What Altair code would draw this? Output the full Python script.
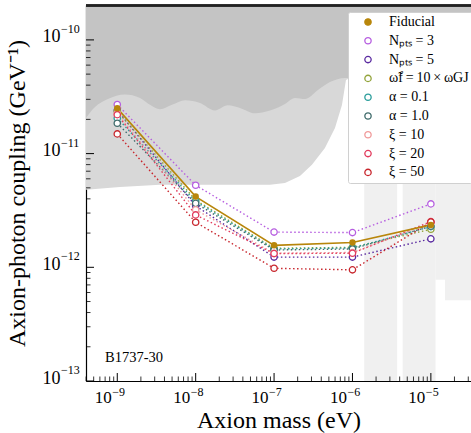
import altair as alt
import pandas as pd

# ---------------- data ----------------
mass_log = [-9, -8, -7, -6, -5]

series_keys = ["fid", "n3", "n5", "om", "a01", "a10", "x10", "x20", "x50"]
series_labels = ["Fiducial", "N\u209a\u209c\u209b = 3", "N\u209a\u209c\u209b = 5",
                 "\u03c9\u0303f\u2009=\u200910\u2009\u00d7\u2009\u03c9GJ",
                 "\u03b1 = 0.1", "\u03b1 = 1.0", "\u03be = 10", "\u03be = 20", "\u03be = 50"]
series_colors = ["#b8860b", "#b65ee0", "#5a2aa0", "#93a43c", "#2a9d9b",
                 "#3f6b6b", "#f09a9a", "#e23a5c", "#c8262d"]

coupling = {
    "fid": [2.50e-11, 4.19e-12, 1.56e-12, 1.65e-12, 2.36e-12],
    "n3":  [2.70e-11, 5.27e-12, 2.04e-12, 2.02e-12, 3.61e-12],
    "n5":  [2.40e-11, 3.47e-12, 1.23e-12, 1.23e-12, 1.78e-12],
    "om":  [2.35e-11, 3.90e-12, 1.47e-12, 1.50e-12, 2.16e-12],
    "a01": [2.05e-11, 3.80e-12, 1.45e-12, 1.48e-12, 2.28e-12],
    "a10": [1.85e-11, 3.65e-12, 1.42e-12, 1.45e-12, 2.30e-12],
    "x10": [2.25e-11, 3.20e-12, 1.33e-12, 1.35e-12, 2.45e-12],
    "x20": [2.20e-11, 2.89e-12, 1.32e-12, 1.33e-12, 2.52e-12],
    "x50": [1.49e-11, 2.49e-12, 0.98e-12, 0.95e-12, 2.50e-12],
}

# excluded-region boundaries (log10 mass, log10 coupling)
light_x = [-9.399, -8.966, -8.455, -7.945, -7.435, -7.052, -6.861, -6.670,
           -6.517, -6.351, -6.223, -6.134, -6.083, -6.032, -4.40]
light_y = [-11.319, -11.293, -11.275, -11.275, -11.275, -11.275, -11.258, -11.196,
           -11.099, -10.950, -10.774, -10.572, -10.352, -10.334, -10.334]
dark_x = [-9.399, -9.284, -9.119, -8.902, -8.710, -8.583, -8.455, -8.302, -8.136,
          -7.945, -7.754, -7.588, -7.435, -7.244, -7.052, -6.861, -6.734, -6.606,
          -6.440, -6.287, -6.096, -4.40]
dark_y = [-10.686, -10.590, -10.520, -10.480, -10.510, -10.570, -10.610, -10.570,
          -10.530, -10.554, -10.620, -10.575, -10.598, -10.645, -10.620, -10.563,
          -10.510, -10.520, -10.440, -10.370, -10.334, -10.334]
stripe_x1 = [-5.85, -5.36, -4.94, -4.82]
stripe_x2 = [-5.43, -4.94, -4.82, -4.40]
stripe_ybot = [-13.0, -13.0, -12.11, -12.29]
stripe_ytop = [-10.334, -10.334, -10.334, -10.334]

x_dom = [10 ** -9.399, 10 ** -4.488]
y_dom = [1e-13, 10 ** -9.693]

x_ticks_major = [1e-9, 1e-8, 1e-7, 1e-6, 1e-5]
x_tick_exps = ["\u22129", "\u22128", "\u22127", "\u22126", "\u22125"]
y_ticks_major = [1e-13, 1e-12, 1e-11, 1e-10]
y_tick_exps = ["\u221213", "\u221212", "\u221211", "\u221210"]
minor_mult = [2, 3, 4, 5, 6, 7, 8, 9]

label_text = "B1737-30"
label_pos = (-9.157, -12.80)

FONT = "Liberation Serif"

rows = []
for k, lab in zip(series_keys, series_labels):
    for m, c in zip(mass_log, coupling[k]):
        rows.append({"key": k, "series": lab, "mass": 10 ** m, "g": c})
df = pd.DataFrame(rows)

xs = alt.Scale(type="log", domain=x_dom, nice=False)
ys = alt.Scale(type="log", domain=y_dom, nice=False)

W, H = 385, 376

light_df = pd.DataFrame({"x": [10 ** v for v in light_x], "y": [10 ** v for v in light_y],
                         "top": y_dom[1]})
dark_df = pd.DataFrame({"x": [10 ** v for v in dark_x], "y": [10 ** v for v in dark_y],
                        "top": y_dom[1]})
stripe_df = pd.DataFrame({"x1": [10 ** v for v in stripe_x1], "x2": [10 ** v for v in stripe_x2],
                          "y1": [10 ** v for v in stripe_ybot], "y2": [10 ** v for v in stripe_ytop]})

xaxis = alt.Axis(values=x_ticks_major, labelExpr="'10'", ticks=False,
                 grid=False, domainColor="black", domainWidth=1.2, labelFont=FONT,
                 labelFontSize=17, labelColor="black", labelPadding=8,
                 labelAlign="right", labelOffset=-6,
                 title="Axion mass (eV)", titleFont=FONT, titleFontSize=24,
                 titleFontWeight="normal", titleColor="black", titlePadding=3)
yaxis = alt.Axis(values=y_ticks_major, labelExpr="'10'", ticks=False,
                 grid=False, domainColor="black", domainWidth=1.2, labelFont=FONT,
                 labelFontSize=18, labelColor="black", labelPadding=26,
                 labelBaseline="alphabetic", labelOffset=2,
                 title="Axion-photon coupling (GeV\u207b\u00b9)", titleFont=FONT,
                 titleFontSize=24, titleFontWeight="normal", titleColor="black",
                 titlePadding=13)

stripes = alt.Chart(stripe_df).mark_rect(clip=True, color="#f0f0f0").encode(
    x=alt.X("x1:Q", scale=xs, axis=xaxis), x2="x2:Q",
    y=alt.Y("y1:Q", scale=ys, axis=yaxis), y2="y2:Q")

light = alt.Chart(light_df).mark_area(color="#d8d8d8", clip=True).encode(
    x=alt.X("x:Q", scale=xs), y=alt.Y("y:Q", scale=ys), y2="top:Q")
dark = alt.Chart(dark_df).mark_area(color="#c4c4c4", clip=True,
                                    interpolate="monotone").encode(
    x=alt.X("x:Q", scale=xs), y=alt.Y("y:Q", scale=ys), y2="top:Q")

stroke_scale = alt.Scale(domain=series_labels, range=series_colors)
fill_scale = alt.Scale(domain=series_labels, range=[series_colors[0]] + ["white"] * 8)

fid = df[df.key == "fid"]
others = df[df.key != "fid"]

legend = alt.Legend(title=None, orient="none", legendX=262, legendY=7,
                    fillColor="white", strokeColor="#d0d0d0", padding=3,
                    cornerRadius=2, labelFont=FONT, labelFontSize=14,
                    labelColor="black", symbolSize=40, symbolStrokeWidth=1.3,
                    symbolOffset=10, labelOffset=14, rowPadding=4.8,
                    symbolType="circle", labelLimit=200)

lines_other = alt.Chart(others).mark_line(
    strokeDash=[1.5, 2.5], strokeWidth=1.4).encode(
    x=alt.X("mass:Q", scale=xs), y=alt.Y("g:Q", scale=ys),
    stroke=alt.Stroke("series:N", scale=stroke_scale, legend=legend))
line_fid = alt.Chart(fid).mark_line(strokeWidth=1.6, color=series_colors[0]).encode(
    x=alt.X("mass:Q", scale=xs), y=alt.Y("g:Q", scale=ys))

pts_other = alt.Chart(others).mark_point(
    shape="circle", size=40, strokeWidth=1.3, opacity=1).encode(
    x=alt.X("mass:Q", scale=xs), y=alt.Y("g:Q", scale=ys),
    stroke=alt.Stroke("series:N", scale=stroke_scale, legend=legend),
    fill=alt.Fill("series:N", scale=fill_scale, legend=legend))
pts_fid = alt.Chart(fid).mark_point(shape="circle", size=42, filled=True, opacity=1,
                                    color=series_colors[0]).encode(
    x=alt.X("mass:Q", scale=xs), y=alt.Y("g:Q", scale=ys))

# inward ticks
ymaj = pd.DataFrame({"v": y_ticks_major, "t": y_tick_exps})
ymin = pd.DataFrame({"v": [m * t for t in y_ticks_major for m in minor_mult
                           if m * t < y_dom[1]]})
xmaj = pd.DataFrame({"v": x_ticks_major, "t": x_tick_exps})
xmin = pd.DataFrame({"v": [m * t for t in [1e-10] + x_ticks_major for m in minor_mult
                           if x_dom[0] < m * t < x_dom[1]]})

ytick_maj = alt.Chart(ymaj).mark_rule(color="black", strokeWidth=1).encode(
    y=alt.Y("v:Q", scale=ys), x=alt.value(0), x2=alt.value(8))
ytick_min = alt.Chart(ymin).mark_rule(color="black", strokeWidth=0.8).encode(
    y=alt.Y("v:Q", scale=ys), x=alt.value(0), x2=alt.value(4.5))
xtick_maj = alt.Chart(xmaj).mark_rule(color="black", strokeWidth=1).encode(
    x=alt.X("v:Q", scale=xs), y=alt.value(H), y2=alt.value(H - 8))
xtick_min = alt.Chart(xmin).mark_rule(color="black", strokeWidth=0.8).encode(
    x=alt.X("v:Q", scale=xs), y=alt.value(H), y2=alt.value(H - 4.5))
top_rule = alt.Chart(ymaj).mark_rule(color="#222222", strokeWidth=2).encode(
    x=alt.value(0), x2=alt.value(W), y=alt.value(0.5))

# exponents of tick labels
x_exp = alt.Chart(xmaj).mark_text(align="left", baseline="alphabetic", font=FONT,
                                  fontSize=12, color="black", dx=-5).encode(
    x=alt.X("v:Q", scale=xs), y=alt.value(H + 15), text="t:N")
y_exp = alt.Chart(ymaj).mark_text(align="left", baseline="alphabetic", font=FONT,
                                  fontSize=12, color="black", dy=-7).encode(
    y=alt.Y("v:Q", scale=ys), x=alt.value(-25), text="t:N")

txt = alt.Chart(pd.DataFrame({"x": [10 ** label_pos[0]], "y": [10 ** label_pos[1]],
                              "t": [label_text]})).mark_text(
    align="left", baseline="middle", font=FONT, fontSize=14.5, color="black").encode(
    x=alt.X("x:Q", scale=xs), y=alt.Y("y:Q", scale=ys), text="t:N")

chart = alt.layer(
    stripes, light, dark, lines_other, line_fid, pts_other, pts_fid,
    ytick_maj, ytick_min, xtick_maj, xtick_min, top_rule, x_exp, y_exp, txt
).properties(
    width=W, height=H,
    autosize=alt.AutoSizeParams(type="none"),
    padding={"left": 86, "top": 5, "right": 0, "bottom": 52},
    background="white",
).configure_view(stroke=None)

chart.save("out.html", embed_options={"renderer": "svg", "actions": False})
